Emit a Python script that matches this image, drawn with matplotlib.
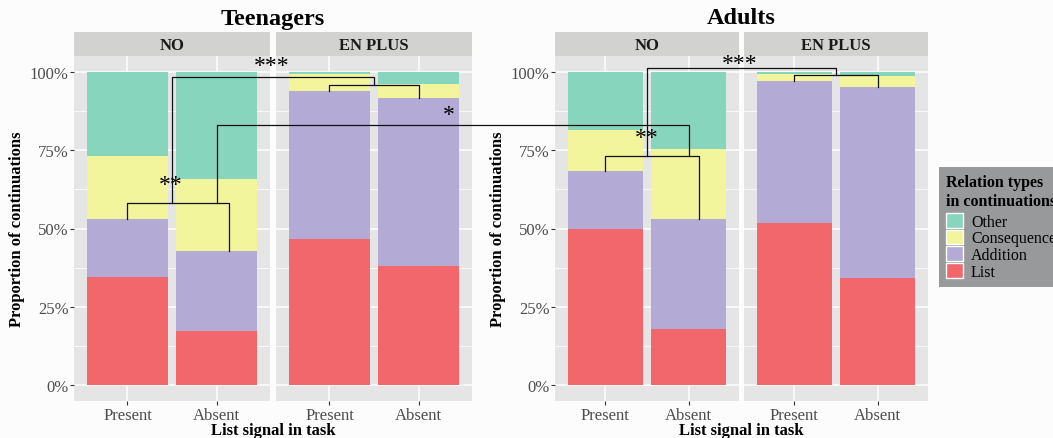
import matplotlib
matplotlib.use("Agg")
import numpy as np
import matplotlib.pyplot as plt
from matplotlib.lines import Line2D
from matplotlib.patches import Patch

plt.rcParams['font.family'] = ['Liberation Serif', 'DejaVu Serif']

facets = ["NO", "EN PLUS"]
signals = ["Present", "Absent"]
relations = ["List", "Addition", "Consequence", "Other"]
colors = ["#f2676b", "#b3aad6", "#f2f59c", "#87d5bd"]
pct_ticks = [0, 0.25, 0.5, 0.75, 1.0]
pct_labels = ["0%", "25%", "50%", "75%", "100%"]

# bar order: NO/Present, NO/Absent, EN PLUS/Present, EN PLUS/Absent
teen_list = [0.346, 0.172, 0.467, 0.381]
teen_addition = [0.184, 0.257, 0.470, 0.536]
teen_consequence = [0.200, 0.228, 0.055, 0.045]
teen_other = [0.270, 0.343, 0.008, 0.038]

adult_list = [0.497, 0.178, 0.516, 0.341]
adult_addition = [0.185, 0.351, 0.455, 0.611]
adult_consequence = [0.133, 0.226, 0.023, 0.035]
adult_other = [0.185, 0.245, 0.006, 0.013]

W, H = 1053, 439
fig = plt.figure(figsize=(W / 100, H / 100), dpi=100)
fig.patch.set_facecolor('#fcfcfc')


def px(x0, y0, x1, y1):
    return [x0 / W, 1 - y1 / H, (x1 - x0) / W, (y1 - y0) / H]


def facet_row(title, x_edges, stacks, top=57, bottom=402, strip_top=33):
    axes = []
    for i, (x0, x1) in enumerate(x_edges):
        ax = fig.add_axes(px(x0, top, x1, bottom))
        ax.set_facecolor('#e5e5e5')
        xs = np.arange(1, len(signals) + 1)
        base = np.zeros(len(signals))
        for vals, c in zip(stacks, colors):
            v = np.array(vals[2 * i:2 * i + 2])
            ax.bar(xs, v, width=0.9, bottom=base, color=c, linewidth=0)
            base += v
        ax.set_xlim(0.4, 2.6)
        ax.set_ylim(-0.05, 1.05)
        ax.set_xticks(xs)
        ax.set_xticklabels(signals)
        ax.set_yticks(pct_ticks)
        ax.set_yticks([0.125, 0.375, 0.625, 0.875], minor=True)
        ax.grid(which='major', color='white', lw=1.1)
        ax.grid(which='minor', axis='y', color='white', lw=0.55)
        ax.set_axisbelow(True)
        ax.tick_params(which='major', length=3, color='#333333',
                       labelcolor='#4d4d4d', labelsize=12, pad=1)
        ax.tick_params(which='minor', length=0)
        if i == 0:
            ax.set_yticklabels(pct_labels)
        else:
            ax.tick_params(axis='y', length=0, labelleft=False)
        for s in ax.spines.values():
            s.set_visible(False)

        strip = fig.add_axes(px(x0, strip_top, x1, top))
        strip.set_facecolor('#d2d3d0')
        strip.set_xticks([])
        strip.set_yticks([])
        for s in strip.spines.values():
            s.set_visible(False)
        strip.text(0.5, 0.45, facets[i], ha='center', va='center',
                   fontsize=12, fontweight='bold', color='#1a1a1a',
                   transform=strip.transAxes)
        axes.append(ax)

    cx = (x_edges[0][0] + x_edges[-1][1]) / 2
    fig.text(cx / W, 1 - 19 / H, title, ha='center', va='center',
             fontsize=17.5, fontweight='bold')
    fig.text(cx / W, 1 - 431 / H, "List signal in task", ha='center',
             va='center', fontsize=12, fontweight='bold')
    fig.text((x_edges[0][0] - 57) / W, 1 - 229 / H, "Proportion of continuations",
             ha='center', va='center', rotation=90, fontsize=12,
             fontweight='bold')
    return axes


tNO, tEN = facet_row("Teenagers", [(74, 270), (276, 472)],
                     [teen_list, teen_addition, teen_consequence, teen_other])
aNO, aEN = facet_row("Adults", [(555, 739), (744, 928)],
                     [adult_list, adult_addition, adult_consequence, adult_other])

teen_top = np.add(teen_list, teen_addition)
adult_top = np.add(adult_list, adult_addition)


def to_fig(ax, x, y):
    return fig.transFigure.inverted().transform(ax.transData.transform((x, y)))


def bracket(points):
    pts = np.array([to_fig(ax, x, y) for ax, x, y in points])
    fig.add_artist(Line2D(pts[:, 0], pts[:, 1], transform=fig.transFigure,
                          color='#111111', lw=0.9))


def stars(ax, x, y, s):
    fx, fy = to_fig(ax, x, y)
    fig.text(fx, fy, s, ha='center', va='center', fontsize=17, color='black')


# teenagers
bracket([(tNO, 1.0, teen_top[0]), (tNO, 1.0, 0.581), (tNO, 2.14, 0.581),
         (tNO, 2.14, teen_top[1])])
bracket([(tEN, 1.0, teen_top[2]), (tEN, 1.0, 0.957), (tEN, 2.0, 0.957),
         (tEN, 2.0, teen_top[3])])
bracket([(tNO, 1.5, 0.581), (tNO, 1.5, 0.982), (tEN, 1.5, 0.982),
         (tEN, 1.5, 0.957)])
# teenagers vs adults
bracket([(tNO, 2.0, 0.581), (tNO, 2.0, 0.829), (aNO, 2.0, 0.829),
         (aNO, 2.0, 0.730)])
# adults
bracket([(aNO, 1.0, adult_top[0]), (aNO, 1.0, 0.730), (aNO, 2.12, 0.730),
         (aNO, 2.12, adult_top[1])])
bracket([(aEN, 1.0, adult_top[2]), (aEN, 1.0, 0.991), (aEN, 2.0, 0.991),
         (aEN, 2.0, adult_top[3])])
bracket([(aNO, 1.5, 0.730), (aNO, 1.5, 1.013), (aEN, 1.5, 1.013),
         (aEN, 1.5, 0.991)])

stars(tNO, 2.62, 1.02, "***")
stars(tNO, 1.49, 0.64, "**")
stars(tEN, 2.34, 0.862, "*")
stars(aNO, 1.5, 0.79, "**")
stars(aNO, 2.61, 1.027, "***")

handles = [Patch(facecolor=c, edgecolor='white', lw=1)
           for c in reversed(colors)]
leg = fig.legend(handles, list(reversed(relations)),
                 title="Relation types\nin continuations",
                 loc='upper left', bbox_to_anchor=(939 / W, 1 - 168 / H),
                 frameon=True, fancybox=False, facecolor='#98999a',
                 edgecolor='none', framealpha=1, fontsize=11.5,
                 title_fontproperties={'weight': 'bold', 'size': 11.5},
                 handlelength=1.05, handleheight=1.05, labelspacing=0,
                 handletextpad=0.5, borderpad=0.45, borderaxespad=0)
leg._legend_box.sep = 3

fig.savefig("out.png", dpi=100, facecolor=fig.get_facecolor())
